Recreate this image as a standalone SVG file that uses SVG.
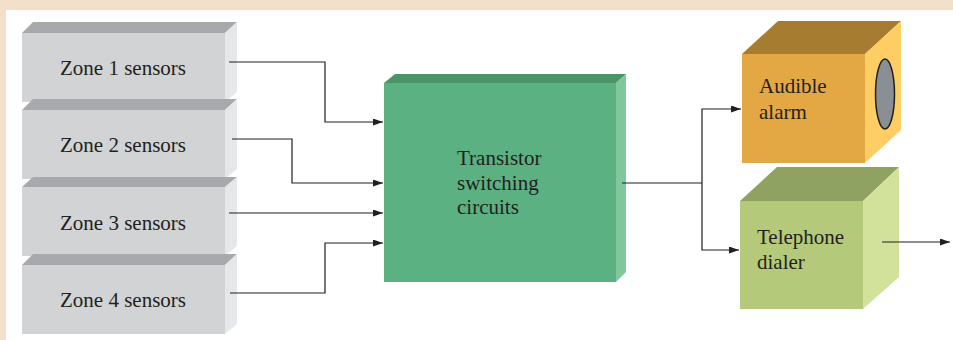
<svg xmlns="http://www.w3.org/2000/svg" width="953" height="340" viewBox="0 0 953 340">
<style>
.t{font-family:"Liberation Serif","Times New Roman",serif;font-size:21px;fill:#231F20}
.c{fill:none;stroke:#231F20;stroke-width:1.2}
.sf{fill:#D1D3D4}.st{fill:#A7A9AC}.ss{fill:#E6E7E8}
</style>
<defs>
<marker id="ah" markerUnits="userSpaceOnUse" markerWidth="11" markerHeight="8" refX="10" refY="3.5" orient="auto">
<path d="M0,0 L10,3.5 L0,7 z" fill="#231F20"/>
</marker>
</defs>
<rect x="0" y="0" width="953" height="340" fill="#F4DFCB"/>
<rect x="6" y="10" width="947" height="330" fill="#FFFFFF"/>

<g id="zone1">
<polygon class="st" points="22,33 33,22 237,22 225,33"/>
<polygon class="ss" points="225,33 237,22 237,92 225,102"/>
<rect class="sf" x="22" y="33" width="203" height="69"/>
<text class="t" x="123" y="75" text-anchor="middle">Zone 1 sensors</text>
</g>
<g id="zone2">
<polygon class="st" points="22,110 33,99 237,99 225,110"/>
<polygon class="ss" points="225,110 237,99 237,169 225,179"/>
<rect class="sf" x="22" y="110" width="203" height="69"/>
<text class="t" x="123" y="152" text-anchor="middle">Zone 2 sensors</text>
</g>
<g id="zone3">
<polygon class="st" points="22,187 33,177 237,177 225,187"/>
<polygon class="ss" points="225,187 237,177 237,246 225,256"/>
<rect class="sf" x="22" y="187" width="203" height="69"/>
<text class="t" x="123" y="230" text-anchor="middle">Zone 3 sensors</text>
</g>
<g id="zone4">
<polygon class="st" points="22,265 33,254 237,254 225,265"/>
<polygon class="ss" points="225,265 237,254 237,324 225,334"/>
<rect class="sf" x="22" y="265" width="203" height="69"/>
<text class="t" x="123" y="307" text-anchor="middle">Zone 4 sensors</text>
</g>

<g id="switching">
<polygon fill="#4A9468" points="384,83 395,74 626,74 616,83"/>
<polygon fill="#80C79B" points="616,83 626,74 626,272 616,282"/>
<rect fill="#5BB182" x="384" y="83" width="232" height="199"/>
<text class="t" x="457" y="165">Transistor</text>
<text class="t" x="457" y="190">switching</text>
<text class="t" x="457" y="214">circuits</text>
</g>

<g id="alarm">
<polygon fill="#A67C30" points="742,54 778,21 901,21 865,54"/>
<polygon fill="#FECD64" points="865,54 901,21 901,130 865,163"/>
<rect fill="#E3A844" x="742" y="54" width="123" height="109"/>
<ellipse cx="885" cy="94" rx="9.5" ry="35" fill="#8A8F93" stroke="#231F20" stroke-width="1.5"/>
<text class="t" x="759" y="93">Audible</text>
<text class="t" x="759" y="119">alarm</text>
</g>

<g id="dialer">
<polygon fill="#8FA262" points="740,201 777,167 899,167 863,201"/>
<polygon fill="#D3E29B" points="863,201 899,167 899,277 863,309"/>
<rect fill="#B5C97B" x="740" y="201" width="123" height="108"/>
<text class="t" x="757" y="244">Telephone</text>
<text class="t" x="757" y="269">dialer</text>
</g>

<g id="connectors">
<polyline class="c" points="229,62 325,62 325,122 383,122" marker-end="url(#ah)"/>
<polyline class="c" points="232,139 292,139 292,183 383,183" marker-end="url(#ah)"/>
<polyline class="c" points="229,213 383,213" marker-end="url(#ah)"/>
<polyline class="c" points="230,293 325,293 325,243 383,243" marker-end="url(#ah)"/>
<polyline class="c" points="622,183 702,183"/>
<polyline class="c" points="702,183 702,109 741,109" marker-end="url(#ah)"/>
<polyline class="c" points="702,183 702,250 739,250" marker-end="url(#ah)"/>
<polyline class="c" points="882,242 950,242" marker-end="url(#ah)"/>
</g>
</svg>
